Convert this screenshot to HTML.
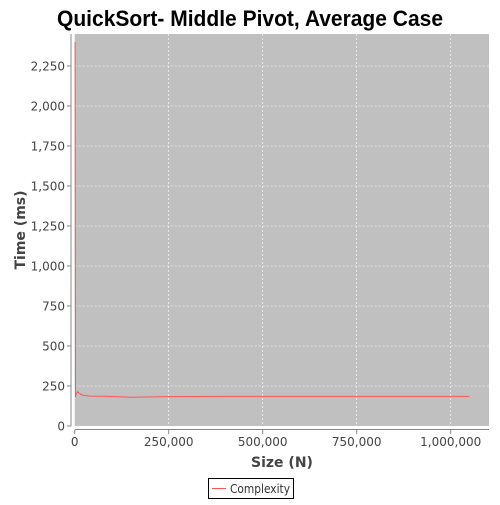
<!DOCTYPE html>
<html><head><meta charset="utf-8"><style>
body{margin:0;background:#fff;}
svg text{font-family:"DejaVu Sans","Liberation Sans",sans-serif;}
</style></head><body>
<svg id="chart" width="500" height="500">
<text x="250" y="26" text-anchor="middle" font-size="22" font-weight="bold" fill="#000" textLength="386" lengthAdjust="spacingAndGlyphs" style="font-family:'Liberation Sans',sans-serif">QuickSort- Middle Pivot, Average Case</text>
<rect x="74.7" y="34" width="414.3" height="392" fill="#c0c0c0"/>
<g id="grid"></g>
<g id="axes"></g>
<polyline id="line" fill="none" stroke="#ff5555" stroke-width="1"/>
<text transform="translate(25,230) rotate(-90)" text-anchor="middle" font-size="14" font-weight="bold" fill="#444">Time (ms)</text>
<text x="282" y="467" text-anchor="middle" font-size="14" font-weight="bold" fill="#444">Size (N)</text>
<g>
<rect x="208.5" y="478.5" width="85" height="20" fill="#fff" stroke="#000"/>
<line x1="212" y1="488.5" x2="226" y2="488.5" stroke="#ff5555"/>
<text x="230" y="493" font-size="12" fill="#333" textLength="60" lengthAdjust="spacingAndGlyphs">Complexity</text>
</g>
</svg>
<script>
const xs=[1000,2000,4000,8000,12000,20000,40000,80000,150000,250000,400000,600000,800000,1000000,1050000];
const ys=[2400,180,200,215,205,193,187,186,180,184,185,185,185,185,185];
const yTicks=[0,250,500,750,1000,1250,1500,1750,2000,2250];
const xTicks=[0,250000,500000,750000,1000000];
const X=v=>74.7+v*94/250000;
const Y=v=>426-v*0.16;
const ns='http://www.w3.org/2000/svg';
const grid=document.getElementById('grid'),axes=document.getElementById('axes');
function mk(tag,attrs,parent){const e=document.createElementNS(ns,tag);for(const k in attrs)e.setAttribute(k,attrs[k]);parent.appendChild(e);return e;}
const fmt=v=>v.toLocaleString('en-US');
yTicks.forEach(t=>{
 const y=Y(t);
 if(t>0){const g=mk('line',{x1:74.7,x2:489,y1:y,y2:y,stroke:'#fff','stroke-dasharray':'2,2','stroke-width':0.6},grid);
 
 }
 mk('line',{x1:67,x2:71,y1:y,y2:y,stroke:'#888'},axes);
 const tx=mk('text',{x:65,y:y+4.5,'text-anchor':'end','font-size':12,fill:'#444'},axes);
 tx.textContent=fmt(t);
 
 
});
xTicks.forEach(t=>{
 const x=X(t);
 if(t>0){const g=mk('line',{x1:x,x2:x,y1:34,y2:426,stroke:'#fff','stroke-dasharray':'2,2','stroke-width':0.6},grid);
 
 }
 mk('line',{x1:x,x2:x,y1:430,y2:434,stroke:'#888'},axes);
 const tx=mk('text',{x:x,y:446,'text-anchor':'middle','font-size':12,fill:'#444'},axes);
 tx.textContent=fmt(t);
 
 
});
mk('line',{x1:71,x2:71,y1:34,y2:426,stroke:'#888'},axes);
mk('line',{x1:74.7,x2:489,y1:429.5,y2:429.5,stroke:'#888'},axes);
document.getElementById('line').setAttribute('points',xs.map((v,i)=>X(v).toFixed(1)+','+Y(ys[i]).toFixed(1)).join(' '));
</script>
</body></html>
